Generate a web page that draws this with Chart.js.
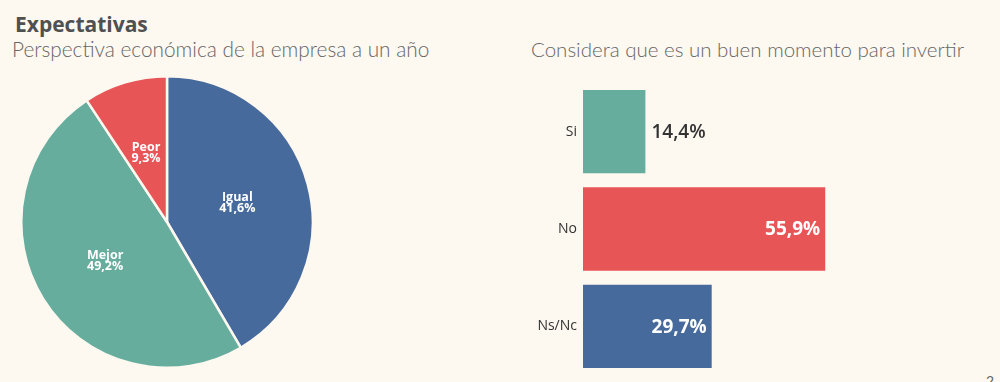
<!DOCTYPE html>
<html><head><meta charset="utf-8">
<script src="https://cdn.jsdelivr.net/npm/chart.js@4.4.1/dist/chart.umd.min.js"></script>
<style>
html,body{margin:0;padding:0;background:#FDF8F0;width:1000px;height:382px;overflow:hidden;font-family:"Lato","Open Sans",sans-serif;}
.t{position:absolute;white-space:nowrap;}
#h1{left:15px;top:10px;font-size:21px;font-weight:700;color:#505050;font-family:"Open Sans",sans-serif;}
#h2{left:12px;top:36px;font-size:20.8px;font-weight:300;color:#666;}
#h3{left:531px;top:37px;font-size:20.5px;font-weight:300;color:#666;}
#pg{left:986px;top:372px;font-size:14px;color:#666;}
#pieWrap{position:absolute;left:20px;top:75px;width:294px;height:294px;}
#barWrap{position:absolute;left:520px;top:83px;width:480px;height:292px;}
</style></head>
<body>
<div class="t" id="h1">Expectativas</div>
<div class="t" id="h2">Perspectiva económica de la empresa a un año</div>
<div class="t" id="h3">Considera que es un buen momento para invertir</div>
<div class="t" id="pg">2</div>
<div id="pieWrap"><canvas id="pie"></canvas></div>
<div id="barWrap"><canvas id="bar"></canvas></div>
<script>
const pieLabels = ["Igual", "Mejor", "Peor"];
const pieValues = [41.6, 49.2, 9.3];
const pieColors = ["#476A9D", "#67AD9D", "#E85557"];

const barLabels = ["Si", "No", "Ns/Nc"];
const barValues = [14.4, 55.9, 29.7];
const barColors = ["#67AD9D", "#E85557", "#476A9D"];

const fmt = v => v.toFixed(1).replace('.', ',') + '%';

const pieLabelPlugin = {
  id: 'pieLabels',
  afterDatasetsDraw(chart) {
    const ctx = chart.ctx;
    const meta = chart.getDatasetMeta(0);
    ctx.save();
    ctx.fillStyle = '#fff';
    ctx.textAlign = 'center';
    ctx.textBaseline = 'middle';
    ctx.font = '700 12.5px "Open Sans", sans-serif';
    meta.data.forEach((arc, i) => {
      const mid = (arc.startAngle + arc.endAngle) / 2;
      const r = arc.outerRadius * 0.5;
      const x = arc.x + Math.cos(mid) * r;
      const y = arc.y + Math.sin(mid) * r;
      ctx.fillText(pieLabels[i], x, y - 5);
      ctx.fillText(fmt(pieValues[i]), x, y + 6);
    });
    ctx.restore();
  }
};

new Chart(document.getElementById('pie'), {
  type: 'pie',
  data: { labels: pieLabels, datasets: [{ data: pieValues, backgroundColor: pieColors, borderColor: '#FDF8F0', borderWidth: 2.5 }] },
  options: {
    responsive: true, maintainAspectRatio: false, animation: false,
    layout: { padding: 0 },
    plugins: { legend: { display: false }, tooltip: { enabled: false } }
  },
  plugins: [pieLabelPlugin]
});

const barLabelPlugin = {
  id: 'barLabels',
  afterDatasetsDraw(chart) {
    const ctx = chart.ctx;
    const meta = chart.getDatasetMeta(0);
    const yScale = chart.scales.y;
    ctx.save();
    ctx.textBaseline = 'middle';
    ctx.font = '400 14px "Open Sans", sans-serif';
    ctx.fillStyle = '#333';
    ctx.textAlign = 'right';
    barLabels.forEach((lab, i) => {
      ctx.fillText(lab, chart.chartArea.left - 6, yScale.getPixelForValue(i));
    });
    meta.data.forEach((bar, i) => {
      const txt = fmt(barValues[i]);
      const w = bar.x - bar.base;
      ctx.font = '600 19px "Open Sans", sans-serif';
      const tw = ctx.measureText(txt).width;
      if (tw + 14 > w) {
        ctx.fillStyle = '#333';
        ctx.textAlign = 'left';
        ctx.fillText(txt, bar.x + 6, bar.y + 1);
      } else {
        ctx.font = '700 19px "Open Sans", sans-serif';
        ctx.fillStyle = '#fff';
        ctx.textAlign = 'right';
        ctx.fillText(txt, bar.x - 5, bar.y + 1);
      }
    });
    ctx.restore();
  }
};

new Chart(document.getElementById('bar'), {
  type: 'bar',
  data: { labels: barLabels, datasets: [{ data: barValues, backgroundColor: barColors, borderWidth: 0, barPercentage: 1, categoryPercentage: 0.856 }] },
  options: {
    indexAxis: 'y',
    responsive: true, maintainAspectRatio: false, animation: false,
    layout: { padding: { left: 63, right: 157, top: 0, bottom: 0 } },
    scales: {
      x: { display: false, min: 0, max: 60 },
      y: { display: false }
    },
    plugins: { legend: { display: false }, tooltip: { enabled: false } }
  },
  plugins: [barLabelPlugin]
});
</script>
</body></html>
